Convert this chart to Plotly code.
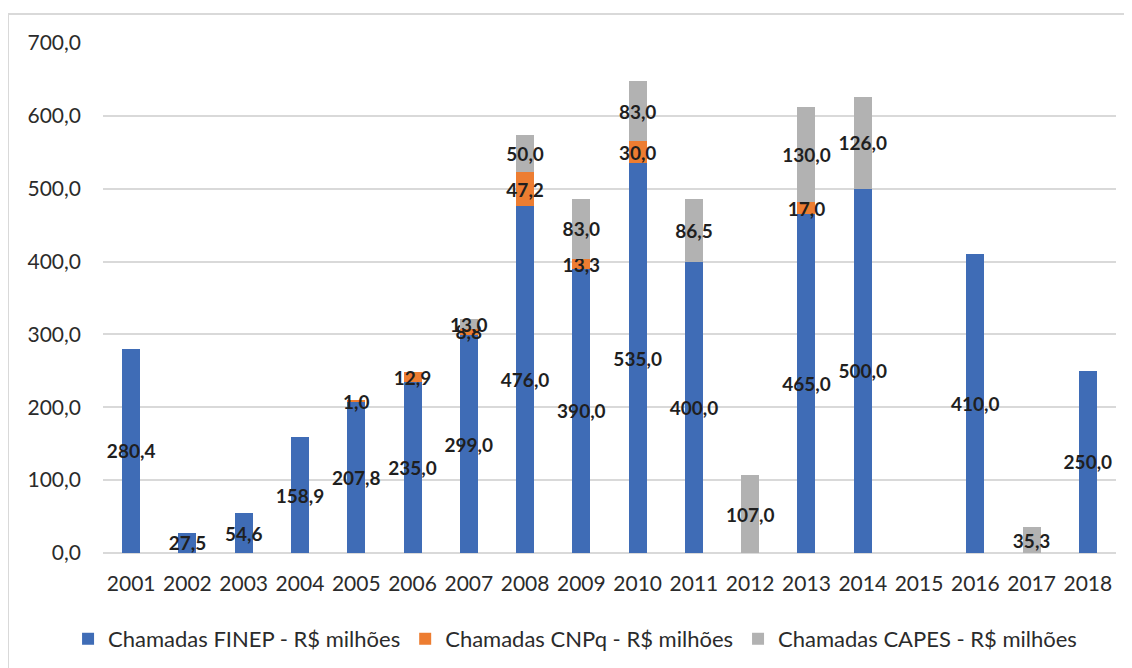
import plotly.graph_objects as go

years = ["2001", "2002", "2003", "2004", "2005", "2006", "2007", "2008", "2009",
         "2010", "2011", "2012", "2013", "2014", "2015", "2016", "2017", "2018"]
finep = [280.4, 27.5, 54.6, 158.9, 207.8, 235.0, 299.0, 476.0, 390.0,
         535.0, 400.0, None, 465.0, 500.0, None, 410.0, None, 250.0]
cnpq = [None, None, None, None, 1.0, 12.9, 8.8, 47.2, 13.3,
        30.0, None, None, 17.0, None, None, None, None, None]
capes = [None, None, None, None, None, None, 13.0, 50.0, 83.0,
         83.0, 86.5, 107.0, 130.0, 126.0, None, None, 35.3, None]

series = [
    ("Chamadas FINEP - R$ milhões", finep, "#3F6CB6"),
    ("Chamadas CNPq - R$ milhões", cnpq, "#ED7D31"),
    ("Chamadas CAPES - R$ milhões", capes, "#B2B2B2"),
]

FONT = "Lato, 'Open Sans', sans-serif"

fig = go.Figure()
for name, vals, color in series:
    fig.add_trace(go.Bar(
        x=years, y=vals, name=name,
        marker=dict(color=color, line=dict(width=0)),
        texttemplate="%{y:.1f}",
        textposition="inside",
        insidetextanchor="middle",
        textangle=0,
        constraintext="none",
        textfont=dict(family=FONT, size=19, color="#1F1F1F", weight="bold"),
        cliponaxis=False,
    ))

fig.update_layout(
    barmode="stack",
    bargap=0.68,
    width=1124, height=660,
    margin=dict(l=95, r=16, t=35, b=115, autoexpand=False),
    paper_bgcolor="white",
    plot_bgcolor="white",
    separators=",.",
    font=dict(family=FONT, size=21, color="#2B2B2B"),
    showlegend=True,
    legend=dict(
        orientation="h",
        xref="paper", x=0.466, xanchor="center",
        yref="container", y=0.044, yanchor="middle",
        font=dict(family=FONT, size=22, color="#2B2B2B"),
        traceorder="normal",
    ),
    xaxis=dict(
        type="category",
        showgrid=False,
        showline=False,
        ticks="",
        automargin=False,
        ticklabelstandoff=16,
        tickfont=dict(family=FONT, size=21, color="#2B2B2B"),
    ),
    yaxis=dict(
        range=[0, 700],
        dtick=100,
        tickformat=".1f",
        showgrid=True,
        gridcolor="#D9D9D9",
        gridwidth=2,
        zeroline=True,
        zerolinecolor="#D9D9D9",
        zerolinewidth=2,
        showline=False,
        ticks="",
        automargin=False,
        ticklabelstandoff=21,
        tickfont=dict(family=FONT, size=21, color="#2B2B2B"),
    ),
    shapes=[
        dict(type="line", xref="paper", yref="paper",
             x0=-0.0938, x1=-0.0938, y0=1.0569, y1=-0.3,
             line=dict(color="#D9D9D9", width=2)),
        dict(type="line", xref="paper", yref="paper",
             x0=-0.0938, x1=1.05, y0=1.0569, y1=1.0569,
             line=dict(color="#D9D9D9", width=2)),
    ],
)

fig.write_html("out.html")
